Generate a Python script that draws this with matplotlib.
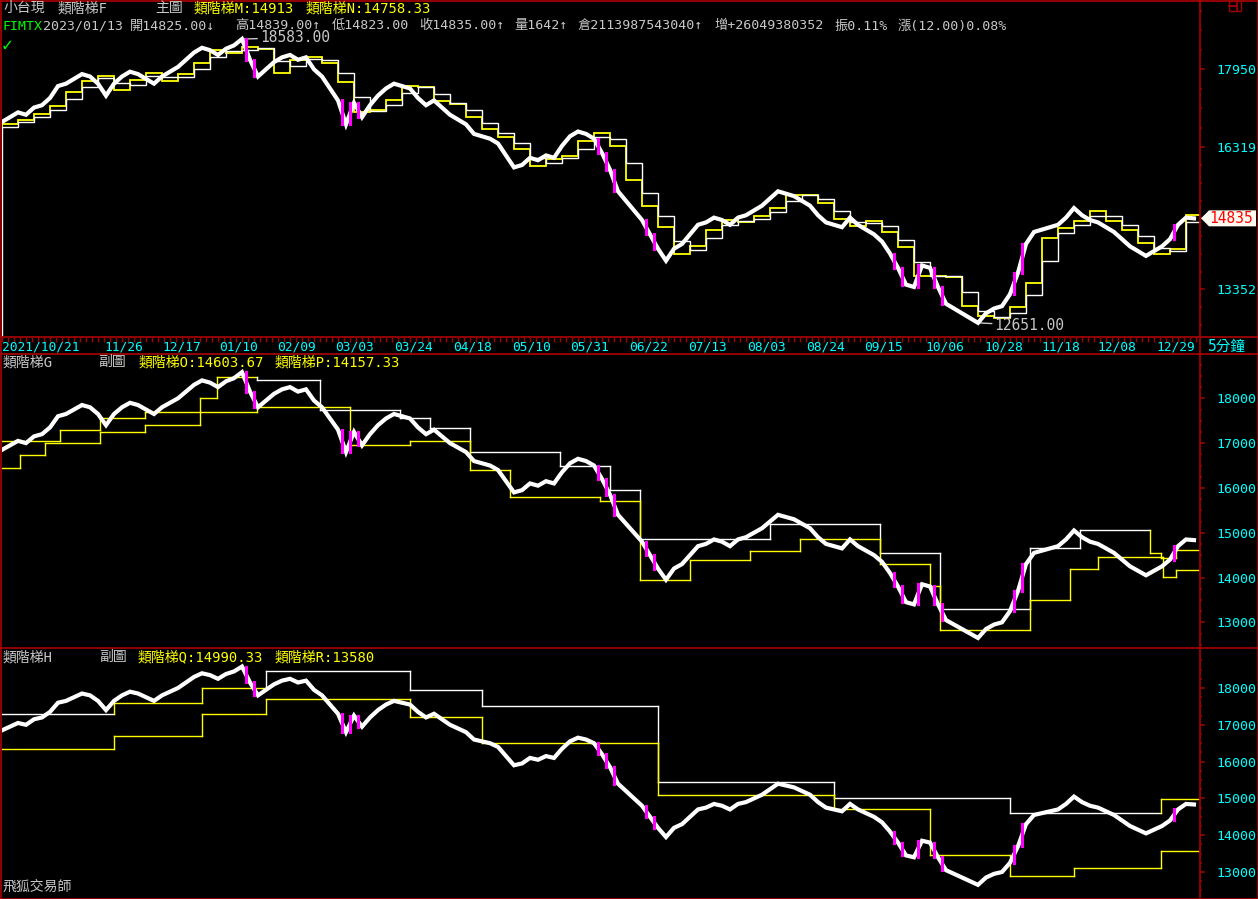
import numpy as np
import matplotlib
matplotlib.use("Agg")
import matplotlib.pyplot as plt
from matplotlib.lines import Line2D
from matplotlib.patches import Polygon, Rectangle

# ---- data -------------------------------------------------------------
# closes of FIMTX, one value per bar
close = [16850, 16950, 17050, 17000, 17150, 17200, 17350, 17600, 17650, 17750,
         17850, 17800, 17650, 17400, 17650, 17800, 17900, 17850, 17750, 17650,
         17800, 17900, 18000, 18150, 18300, 18400, 18350, 18250, 18380, 18450,
         18583, 18150, 17800, 17950, 18100, 18200, 18250, 18150, 18200, 17950,
         17800, 17550, 17300, 16800, 17250, 16950, 17200, 17400, 17550, 17650,
         17600, 17550, 17350, 17200, 17300, 17150, 17000, 16900, 16800, 16600,
         16550, 16500, 16400, 16150, 15900, 15950, 16100, 16050, 16150, 16100,
         16350, 16550, 16650, 16600, 16500, 16200, 15850, 15400, 15200, 15000,
         14800, 14500, 14200, 13950, 14200, 14300, 14500, 14700, 14750, 14850,
         14800, 14700, 14850, 14900, 15000, 15100, 15250, 15400, 15350, 15300,
         15200, 15100, 14900, 14750, 14700, 14650, 14850, 14700, 14600, 14500,
         14350, 14100, 13800, 13450, 13400, 13850, 13800, 13400, 13050, 12950,
         12850, 12750, 12651, 12850, 12950, 13000, 13250, 13700, 14300, 14550,
         14600, 14650, 14700, 14850, 15050, 14900, 14800, 14750, 14650, 14550,
         14400, 14250, 14150, 14050, 14150, 14250, 14400, 14700, 14850, 14835]

# main-chart ladders, one level per two bars
ladder_m = [16800, 16900, 17020, 17180, 17480, 17700, 17820, 17520, 17730, 17870,
            17700, 17850, 18080, 18350, 18300, 18420, 18370, 17880, 18150, 18200,
            18080, 17680, 17050, 17100, 17300, 17600, 17580, 17280, 17230, 16950,
            16700, 16530, 16280, 15930, 16080, 16130, 16450, 16620, 16350, 15630,
            15100, 14650, 14080, 14250, 14600, 14800, 14750, 14880, 15050, 15330,
            15330, 15150, 14830, 14680, 14780, 14550, 14230, 13630, 13630, 13600,
            13000, 12800, 12750, 12980, 13480, 14430, 14630, 14780, 14980, 14780,
            14600, 14330, 14100, 14200, 14913]
ladder_n = [16750, 16850, 16950, 17100, 17330, 17590, 17760, 17660, 17620, 17800,
            17790, 17780, 17960, 18210, 18330, 18360, 18400, 18120, 18020, 18170,
            18140, 17880, 17370, 17080, 17200, 17450, 17590, 17430, 17250, 17090,
            16830, 16620, 16400, 16100, 16000, 16100, 16290, 16530, 16490, 15990,
            15370, 14880, 14370, 14170, 14420, 14700, 14780, 14820, 14960, 15190,
            15330, 15240, 14990, 14760, 14730, 14670, 14390, 13930, 13630, 13620,
            13300, 12900, 12780, 12860, 13230, 13950, 14530, 14700, 14880, 14880,
            14690, 14470, 14220, 14150, 14758.33]

# sub-chart ladders: bar where each level starts, the level, and its colour key
ladder_o_start = [0, 7.25, 12.25, 17.9, 24.75, 26.9, 31.9, 39.75, 49.75, 53.5, 58.5,
                  69.75, 76, 79.75, 96, 109.75, 117.25, 128.5, 134.75, 143.5, 144.9, 146.75]
ladder_o = [17050, 17300, 17550, 17700, 18000, 18480, 18400, 17740, 17560, 17340, 16800,
            16500, 15950, 14850, 15200, 14550, 13300, 14650, 15050, 14540, 14440, 14603.67]
ladder_o_key = ["y", "y", "y", "y", "y", "y", "w", "w", "w", "w", "w",
                "w", "w", "w", "w", "w", "w", "w", "w", "y", "y", "y"]
ladder_p_start = [0, 2.25, 5.4, 12.25, 17.9, 24.75, 31.9, 43.5, 51, 58.5, 63.5, 74.75,
                  79.75, 86, 93.5, 99.75, 109.75, 116, 117.25, 128.5, 133.5, 137, 145.1, 146.75]
ladder_p = [16440, 16740, 17000, 17250, 17400, 17700, 17800, 16950, 17050, 16400, 15800, 15700,
            13940, 14400, 14600, 14850, 14300, 13800, 12830, 13500, 14200, 14450, 14010, 14157.33]
ladder_p_key = ["y"] * len(ladder_p)

ladder_q_start = [0, 14, 25, 33, 51, 60, 82, 104, 126, 144.9]
ladder_q = [17300, 17600, 18000, 18450, 17950, 17500, 15450, 15000, 14600, 14990.33]
ladder_q_key = ["w", "y", "y", "w", "w", "w", "w", "w", "w", "y"]
ladder_r_start = [0, 14, 25, 33, 51, 60, 82, 104, 116, 126, 134, 144.9]
ladder_r = [16350, 16700, 17300, 17700, 17200, 16500, 15100, 14700, 13450, 12900, 13100, 13580]
ladder_r_key = ["y"] * len(ladder_r)

date_labels = ["2021/10/21", "11/26", "12/17", "01/10", "02/09", "03/03", "03/24",
               "04/18", "05/10", "05/31", "06/22", "07/13", "08/03", "08/24",
               "09/15", "10/06", "10/28", "11/18", "12/08", "12/29"]
date_bars = [0, 12.75, 20.1, 27.1, 34.4, 41.6, 49.0, 56.4, 63.75, 71.0, 78.4,
             85.75, 93.1, 100.5, 107.75, 115.4, 122.75, 129.9, 136.9, 144.25]

# quote line
quote_code = "FIMTX"
quote_parts = ["2023/01/13", "開14825.00↓", "高14839.00↑", "低14823.00", "收14835.00↑",
               "量1642↑", "倉2113987543040↑", "增+26049380352", "振0.11%", "漲(12.00)0.08%"]

# ---- styling ----------------------------------------------------------
W, H, DPI = 1258, 899, 100
RED = "#a00000"
CYAN = "#00ffff"
GRAY = "#c8c8c8"
YEL = "#ffff00"
MAG = "#ff00ff"
KEYCOL = {"y": YEL, "w": "white"}
MONO = ["DejaVu Sans Mono", "Noto Sans CJK TC"]
plt.rcParams["font.family"] = MONO

fig = plt.figure(figsize=(W / DPI, H / DPI), dpi=DPI, facecolor="black")


def frect(x0, y0, x1, y1):
    return [x0 / W, 1 - y1 / H, (x1 - x0) / W, (y1 - y0) / H]


def fline(xs, ys, **kw):
    fig.add_artist(Line2D([x / W for x in xs], [1 - y / H for y in ys],
                          color=RED, lw=1.3, zorder=20, **kw))


def ftext(x, y, s, color, size=10, **kw):
    fig.text(x / W, 1 - y / H, s, color=color, fontsize=size, family=MONO,
             ha=kw.pop("ha", "left"), va="center", zorder=25, **kw)


n = len(close)
x = np.arange(n)
XMAX = 149.75
price = np.array(close, dtype=float)


def setup(ax, ylim):
    ax.set_facecolor("black")
    ax.set_xlim(0, XMAX)
    ax.set_ylim(*ylim)
    for s in ax.spines.values():
        s.set_visible(False)
    ax.set_xticks([])
    ax.yaxis.tick_right()
    ax.tick_params(axis="y", which="major", direction="out", length=3.8, width=1.1,
                   color=RED, labelcolor=CYAN, labelsize=9.5, pad=8)
    ax.tick_params(axis="y", which="minor", direction="out", length=1.6, width=1.1,
                   color=RED)


def draw_price(ax):
    ax.plot(x, price, color="white", lw=3.0, solid_joinstyle="miter", zorder=5)
    jumps = np.where(np.abs(np.diff(price)) >= 280)[0]
    for j in jumps:
        ax.plot([j + 0.5, j + 0.5], [price[j], price[j + 1]], color=MAG, lw=2.2, zorder=6)


def draw_ladder(ax, starts, levels, keys):
    ends = list(starts[1:]) + [XMAX]
    for k, (s, e, v, c) in enumerate(zip(starts, ends, levels, keys)):
        ax.plot([s, e], [v, v], color=KEYCOL[c], lw=1.0, zorder=3)
        if k + 1 < len(levels):
            ax.plot([e, e], [v, levels[k + 1]], color=KEYCOL[keys[k + 1]], lw=1.0, zorder=3)


ax1 = fig.add_axes(frect(2, 2, 1200, 337))
ax2 = fig.add_axes(frect(2, 354, 1200, 648))
ax3 = fig.add_axes(frect(2, 648, 1200, 897))
axd = fig.add_axes(frect(2, 337, 1200, 354))

setup(ax1, (12355, 19357))
setup(ax2, (12427, 18989))
setup(ax3, (12321, 19087))

# main chart
edges_mn = np.arange(len(ladder_m) + 1) * 2.0
ax1.stairs(ladder_m, edges_mn, color=YEL, lw=1.3, zorder=3)
ax1.stairs(ladder_n, edges_mn, color="white", lw=1.0, zorder=4)
draw_price(ax1)
maj1 = [13352, 16319, 17950]
ax1.set_yticks(maj1, [str(v) for v in maj1])
minor1 = list(np.arange(17950, 19357, 407.75)[1:]) + list(np.arange(16319, 17950, 407.75)[1:]) \
    + list(np.arange(13352, 16319, 370.9)[1:]) + list(np.arange(13352, 12355, -370.9)[1:])
ax1.set_yticks(minor1, minor=True)

imax, imin = int(np.argmax(price)), int(np.argmin(price))
ax1.annotate(f"{price[imax]:.2f}", xy=(imax, price[imax]), xytext=(13, 1),
             textcoords="offset points", color=GRAY, fontsize=10.5, va="center",
             arrowprops=dict(arrowstyle="-", color=GRAY, lw=1, shrinkA=0, shrinkB=0))
ax1.annotate(f"{price[imin]:.2f}", xy=(imin, price[imin]), xytext=(12, -2),
             textcoords="offset points", color=GRAY, fontsize=10.5, va="center",
             arrowprops=dict(arrowstyle="-", color=GRAY, lw=1, shrinkA=0, shrinkB=0))

# sub chart G
draw_ladder(ax2, ladder_o_start, ladder_o, ladder_o_key)
draw_ladder(ax2, ladder_p_start, ladder_p, ladder_p_key)
draw_price(ax2)

# sub chart H
draw_ladder(ax3, ladder_q_start, ladder_q, ladder_q_key)
draw_ladder(ax3, ladder_r_start, ladder_r, ladder_r_key)
draw_price(ax3)

for ax in (ax2, ax3):
    maj = list(range(13000, 18001, 1000))
    ax.set_yticks(maj, [str(v) for v in maj])
    ax.set_yticks([v for v in np.arange(12500, 19001, 250) if v % 1000], minor=True)

# date band
axd.set_facecolor("black")
axd.set_xlim(0, XMAX)
axd.set_ylim(0, 1)
for s in axd.spines.values():
    s.set_visible(False)
axd.set_yticks([])
axd.xaxis.tick_top()
axd.set_xticks(np.arange(0, XMAX, 0.75), minor=True)
axd.set_xticks([])
axd.tick_params(axis="x", which="minor", direction="in", length=3.5, width=1, color=RED, top=True)
for lab, pos in zip(date_labels, date_bars):
    axd.text(pos, 0.42, lab, color=CYAN, fontsize=9.3, ha="left", va="center")
ftext(1208, 346, "5分鐘", CYAN, size=10.5)

# frame
fline([0.5, 1257.5, 1257.5, 0.5, 0.5], [0.5, 0.5, 898.5, 898.5, 0.5])
for yy in (337, 354, 648):
    fline([0, W], [yy, yy])
fline([1200, 1200], [0, H])
fig.add_artist(Rectangle((1229 / W, 1 - 11 / H), 12 / W, 10 / H, fill=False,
                         edgecolor=RED, lw=1, transform=fig.transFigure, zorder=20))
fline([1237, 1237], [1, 11])
fline([1229, 1237], [6, 6])

# headers
ftext(3, 8, "小台現", GRAY)
ftext(58, 8, "類階梯F", GRAY)
ftext(155, 8, "主圖", GRAY)
ftext(194, 8, f"類階梯M:{ladder_m[-1]:g}", YEL)
ftext(306, 8, f"類階梯N:{ladder_n[-1]:.2f}", YEL)
ftext(3, 26, quote_code, "#00ff00", size=9.5)
for xpos, part in zip([43, 130, 235, 332, 419, 514, 577, 714, 835, 898], quote_parts):
    ftext(xpos, 26, part, GRAY, size=9.5)
ftext(2, 46, "✓", "#00ff00", size=13, weight="bold")

ftext(3, 362, "類階梯G", GRAY)
ftext(98, 362, "副圖", GRAY)
ftext(139, 362, f"類階梯O:{ladder_o[-1]:.2f}", YEL)
ftext(275, 362, f"類階梯P:{ladder_p[-1]:.2f}", YEL)

ftext(3, 657, "類階梯H", GRAY)
ftext(99, 657, "副圖", GRAY)
ftext(138, 657, f"類階梯Q:{ladder_q[-1]:.2f}", YEL)
ftext(275, 657, f"類階梯R:{ladder_r[-1]:g}", YEL)

ftext(3, 887, "飛狐交易師", GRAY)

# last price tag
_, ypx = ax1.transData.transform((n - 1, price[-1]))
yt = H - ypx
tag = Polygon([(1201 / W, 1 - yt / H), (1209 / W, 1 - (yt - 8) / H), (1256 / W, 1 - (yt - 8) / H),
               (1256 / W, 1 - (yt + 8) / H), (1209 / W, 1 - (yt + 8) / H)],
              closed=True, facecolor="#fffaf0", edgecolor="none", transform=fig.transFigure, zorder=21)
fig.add_artist(tag)
ftext(1253, yt, f"{price[-1]:.0f}", "#ff0000", size=10.5, ha="right")

fig.savefig("out.png", dpi=DPI, facecolor="black")
